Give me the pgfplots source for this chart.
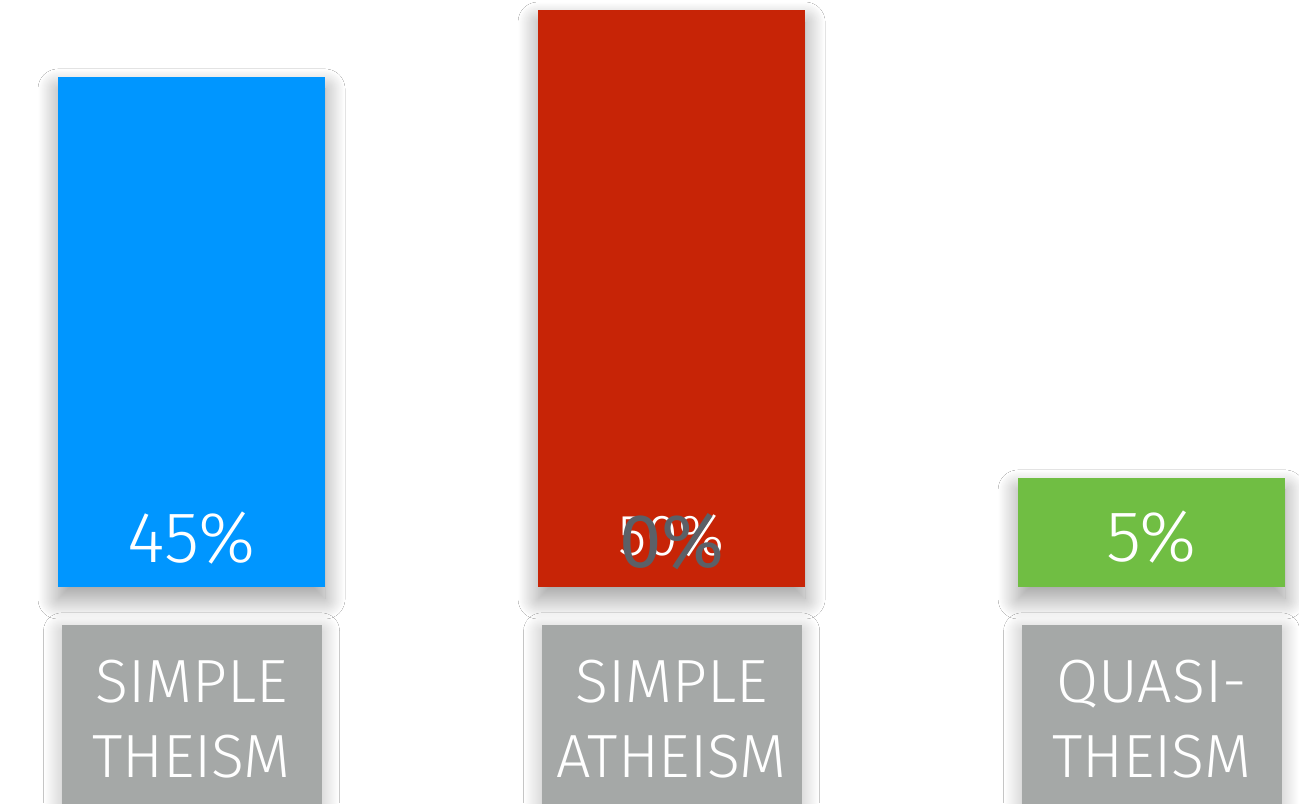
\documentclass[border=0pt]{standalone}
\usepackage{fontspec}
\setmainfont{Fira Sans Light}
\newfontfamily\regfont{Fira Sans}
\usepackage{pgfplots}
\pgfplotsset{compat=1.18}
\usetikzlibrary{shadows.blur}
\definecolor{cblue}{RGB}{0,150,255}
\definecolor{cred}{RGB}{199,36,6}
\definecolor{cgreen}{RGB}{112,190,67}
\definecolor{cgray}{RGB}{165,168,167}
\definecolor{cdark}{RGB}{91,96,103}
\tikzset{
  shd/.style={blur shadow={shadow xshift=0pt, shadow yshift=-6pt, shadow blur radius=10pt, shadow opacity=40, shadow blur steps=40, shadow blur extra rounding=0pt}},
  shdb/.style={blur shadow={shadow xshift=0pt, shadow yshift=-3pt, shadow blur radius=9pt, shadow opacity=28, shadow blur steps=36, shadow blur extra rounding=0pt}}}
\begin{document}
\begin{tikzpicture}
\fill[white] (0,0) rectangle (649.5pt,401.5pt);
\begin{axis}[at={(0,0)}, anchor=south west, scale only axis,
  width=649.5pt, height=401.5pt, hide axis,
  xmin=-0.399, xmax=2.307, ymin=-18.72, ymax=50.87,
  ybar, bar width=0.55625, bar shift=0pt, clip=true]
% category boxes
\fill[cgray, shdb] (axis cs:-0.2708,-3.29) rectangle (axis cs:0.2708,-19.5);
\fill[cgray, shdb] (axis cs:0.7292,-3.29) rectangle (axis cs:1.2708,-19.5);
\fill[cgray, shdb] (axis cs:1.7292,-3.29) rectangle (axis cs:2.2708,-19.5);
% bars
\addplot[fill=cblue, draw=none, shd] coordinates {(0,44.2)};
\addplot[fill=cred, draw=none, shd] coordinates {(1,50)};
\addplot[fill=cgreen, draw=none, shd] coordinates {(2,9.45)};
% value labels
\node[text=white, anchor=base, inner sep=0pt, font=\fontsize{36}{36}\selectfont] at (axis cs:0,2.08) {45\%};
\node[text=white, anchor=base, inner sep=0pt, font=\fontsize{29}{29}\selectfont] at (axis cs:1,2.77) {50\%};
\node[text=cdark, anchor=base, inner sep=0pt, font=\regfont\fontsize{38}{38}\selectfont] at (axis cs:1,1.73) {0\%};
\node[text=white, anchor=base, inner sep=0pt, font=\fontsize{36}{36}\selectfont] at (axis cs:2,2.17) {5\%};
% category labels
\begin{scope}[every node/.style={text=white, anchor=base, inner sep=0pt, font=\fontsize{30.5}{30.5}\selectfont}]
\node at (axis cs:0,-9.97) {SIMPLE};
\node at (axis cs:0,-16.55) {THEISM};
\node at (axis cs:1,-9.97) {SIMPLE};
\node at (axis cs:1,-16.55) {ATHEISM};
\node at (axis cs:2,-9.97) {QUASI-};
\node at (axis cs:2,-16.55) {THEISM};
\end{scope}
\end{axis}
\pgfresetboundingbox
\path (0,0) rectangle (649.5pt,401.5pt);
\end{tikzpicture}
\end{document}
